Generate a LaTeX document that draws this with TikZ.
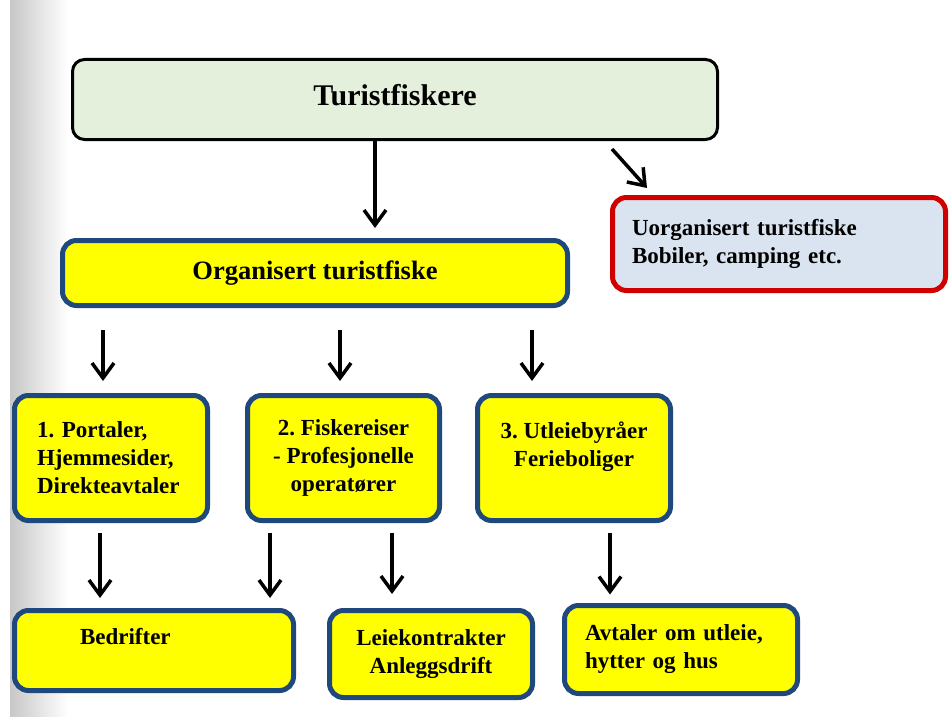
\documentclass[tikz,border=0pt]{standalone}
\usepackage{fontspec}
\setmainfont{Liberation Serif}
\usetikzlibrary{positioning, arrows.meta, shadows}

\definecolor{boxblue}{RGB}{31,73,125}
\definecolor{boxred}{RGB}{208,0,0}
\definecolor{boxyellow}{RGB}{255,255,0}
\definecolor{palegreen}{RGB}{228,240,219}
\definecolor{paleblue}{RGB}{218,228,240}
\frenchspacing

\begin{document}
\begin{tikzpicture}[
    x = 1pt, y = -1pt,
    > = {Straight Barb[length=15pt, width=22pt]},
    line width = 3.5pt,
    font = \fontsize{23}{28}\selectfont\bfseries
]

% Setup the styles for the boxes
\tikzstyle{topbox}=[draw=black, line width=3pt, fill=palegreen, rounded corners=12pt, minimum width=645pt, minimum height=80pt, align=center, font=\fontsize{30}{36}\selectfont\bfseries]
\tikzstyle{bluebox}=[draw=boxblue, line width=5pt, fill=boxyellow, rounded corners=14pt, drop shadow={shadow xshift=1pt, shadow yshift=-2pt, opacity=0.35}]
\tikzstyle{redbox}=[bluebox, draw=boxred, fill=paleblue]
\tikzstyle{arrow}=[->, line width=3.5pt, draw=black]

% Page margin with the grey strip
\shade[left color=black!22, right color=white] (10,0) rectangle (68,717);
\useasboundingbox (0,0) rectangle (951,717);

% Draw the boxes
\node[topbox] (tur) at (395,99.5) {Turistfiskere\\[-26pt]\mbox{}};
\node[redbox, minimum height=93pt, text width=294pt, inner xsep=19.5pt, align=left] (uorg) at (779,244) {Uorganisert turistfiske\\Bobiler, camping etc.};
\node[bluebox, minimum width=505pt, minimum height=65pt, font=\fontsize{26.5}{31}\selectfont\bfseries] (org) at (315,273) {Organisert turistfiske};

\node[bluebox, minimum height=125pt, text width=148pt, inner xsep=22.5pt, align=left] (portal) at (111,458) {1. Portaler,\\Hjemmesider,\\Direkteavtaler};
\node[bluebox, minimum width=192pt, minimum height=125pt, align=center] (fiskereiser) at (343.5,458) {2. Fiskereiser\\- Profesjonelle\\operatører};
\node[bluebox, minimum width=193pt, minimum height=125pt, align=center] (utleie) at (574,458) {3. Utleiebyråer\\Ferieboliger\\ \mbox{}};

\node[bluebox, minimum height=80pt, text width=148pt, inner xsep=65.5pt, align=left] (bedrift) at (154,650.5) {Bedrifter\\ \mbox{}};
\node[bluebox, minimum width=203pt, minimum height=87pt, align=center] (leie) at (431,654) {Leiekontrakter\\Anleggsdrift};
\node[bluebox, minimum height=88pt, text width=192pt, inner xsep=20.5pt, align=left] (avtale) at (681,649.5) {Avtaler om utleie,\\hytter og hus};

% Draw the arrows
\draw[arrow] ([xshift=-20pt]tur.south) -- ([xshift=-20pt, yshift=10pt]tur.south |- org.north);
\draw[arrow] ([xshift=217pt, yshift=-8pt]tur.south) -- ([xshift=-132pt, yshift=7pt]uorg.north);

\draw[arrow] ([xshift=-8pt, yshift=-22pt]portal.north |- org.south) -- ([xshift=-8pt, yshift=12pt]portal.north);
\draw[arrow] ([xshift=-3.5pt, yshift=-22pt]fiskereiser.north |- org.south) -- ([xshift=-3.5pt, yshift=12pt]fiskereiser.north);
\draw[arrow] ([xshift=-42pt, yshift=-22pt]utleie.north |- org.south) -- ([xshift=-42pt, yshift=12pt]utleie.north);

\draw[arrow] ([xshift=-11pt, yshift=-9.5pt]portal.south) -- ([xshift=-11pt, yshift=10pt]portal.south |- bedrift.north);
\draw[arrow] ([xshift=-73.5pt, yshift=-9.5pt]fiskereiser.south) -- ([xshift=-73.5pt, yshift=10pt]fiskereiser.south |- bedrift.north);
\draw[arrow] ([xshift=48.5pt, yshift=-9.5pt]fiskereiser.south) -- ([xshift=48.5pt, yshift=14pt]fiskereiser.south |- leie.north);
\draw[arrow] ([xshift=36pt, yshift=-9.5pt]utleie.south) -- ([xshift=36pt, yshift=8.5pt]utleie.south |- avtale.north);

\end{tikzpicture}
\end{document}
